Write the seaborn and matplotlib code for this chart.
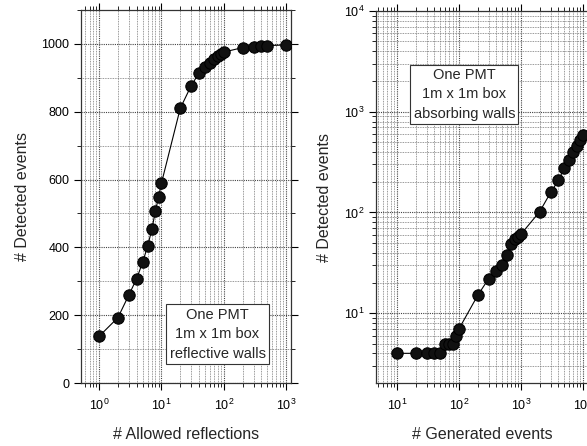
import numpy as np
import pandas as pd
import matplotlib
matplotlib.use("Agg")
import matplotlib.pyplot as plt
import seaborn as sns

# Left panel: reflective walls
refl_x = [1, 2, 3, 4, 5, 6, 7, 8, 9, 10, 20, 30, 40, 50, 60, 70, 80, 90, 100,
          200, 300, 400, 500, 1000]
refl_y = [138, 193, 260, 308, 357, 404, 453, 508, 549, 590, 810, 877, 914, 932,
          945, 955, 963, 970, 976, 989, 992, 995, 995, 997]

# Right panel: absorbing walls
gen_x = [10, 20, 30, 40, 50, 60, 70, 80, 90, 100, 200, 300, 400, 500, 600, 700,
         800, 900, 1000, 2000, 3000, 4000, 5000, 6000, 7000, 8000, 9000, 10000]
gen_y = [4, 4, 4, 4, 4, 5, 5, 5, 6, 7, 15, 22, 26, 30, 38, 49,
         54, 57, 61, 102, 158, 208, 278, 333, 398, 462, 522, 585]

left_box = "One PMT\n1m x 1m box\nreflective walls"
right_box = "One PMT\n1m x 1m box\nabsorbing walls"
left_xlabel = "# Allowed reflections"
right_xlabel = "# Generated events"
ylabel = "# Detected events"
left_yticks = [0, 200, 400, 600, 800, 1000]

sns.set_style("ticks")
plt.rcParams['font.family'] = ['Liberation Sans', 'DejaVu Sans']
plt.rcParams['mathtext.fontset'] = 'custom'
plt.rcParams['mathtext.rm'] = 'Liberation Sans'
plt.rcParams['mathtext.it'] = 'Liberation Sans:italic'

fig = plt.figure(figsize=(5.87, 4.46), dpi=100)
ax1 = fig.add_axes([81/587, 63/446, 210/587, 373/446])
ax2 = fig.add_axes([376/587, 63/446, 212/587, 372/446])

df1 = pd.DataFrame({"x": refl_x, "y": refl_y})
df2 = pd.DataFrame({"x": gen_x, "y": gen_y})

for ax, df in ((ax1, df1), (ax2, df2)):
    sns.lineplot(data=df, x="x", y="y", ax=ax, color="black", lw=0.8,
                 marker="o", markersize=8.2, markeredgecolor="black",
                 markerfacecolor="#111111", zorder=5)
    ax.set_xscale("log")

ax1.set_xlim(0.51, 1200)
ax1.set_ylim(0, 1100)
ax1.set_yticks(left_yticks)
ax1.yaxis.set_minor_locator(matplotlib.ticker.MultipleLocator(100))

ax2.set_yscale("log")
ax2.set_xlim(4.6, 12000)
ax2.set_ylim(2.03, 10000)

for ax, xl in ((ax1, left_xlabel), (ax2, right_xlabel)):
    ax.set_xlabel(xl, fontsize=11.5, labelpad=10)
    ax.set_ylabel(ylabel, fontsize=11.5, labelpad=8)
    ax.grid(True, which="major", ls=(0, (1, 1)), color="#444444", lw=0.8)
    ax.grid(True, which="minor", ls=(0, (1, 1)), color="#777777", lw=0.6)
    ax.set_axisbelow(True)
    ax.tick_params(which="both", direction="out", top=True, right=True,
                   labelsize=9, colors="black")
    ax.tick_params(axis="x", which="major", pad=6)
    ax.tick_params(which="major", length=5, width=0.8)
    ax.tick_params(which="minor", length=3, width=0.6)
    for sp in ax.spines.values():
        sp.set_visible(True)
        sp.set_color("#333333")
        sp.set_linewidth(0.9)

ax1.text(0.65, 0.131, left_box, transform=ax1.transAxes, ha="center", va="center",
         fontsize=10.5, linespacing=1.5,
         bbox=dict(boxstyle="square,pad=0.22", fc="white", ec="#333333", lw=0.8),
         zorder=6)
ax2.text(0.417, 0.776, right_box, transform=ax2.transAxes, ha="center", va="center",
         fontsize=10.5, linespacing=1.5,
         bbox=dict(boxstyle="square,pad=0.22", fc="white", ec="#333333", lw=0.8),
         zorder=6)

fig.savefig("out.png", dpi=100)
